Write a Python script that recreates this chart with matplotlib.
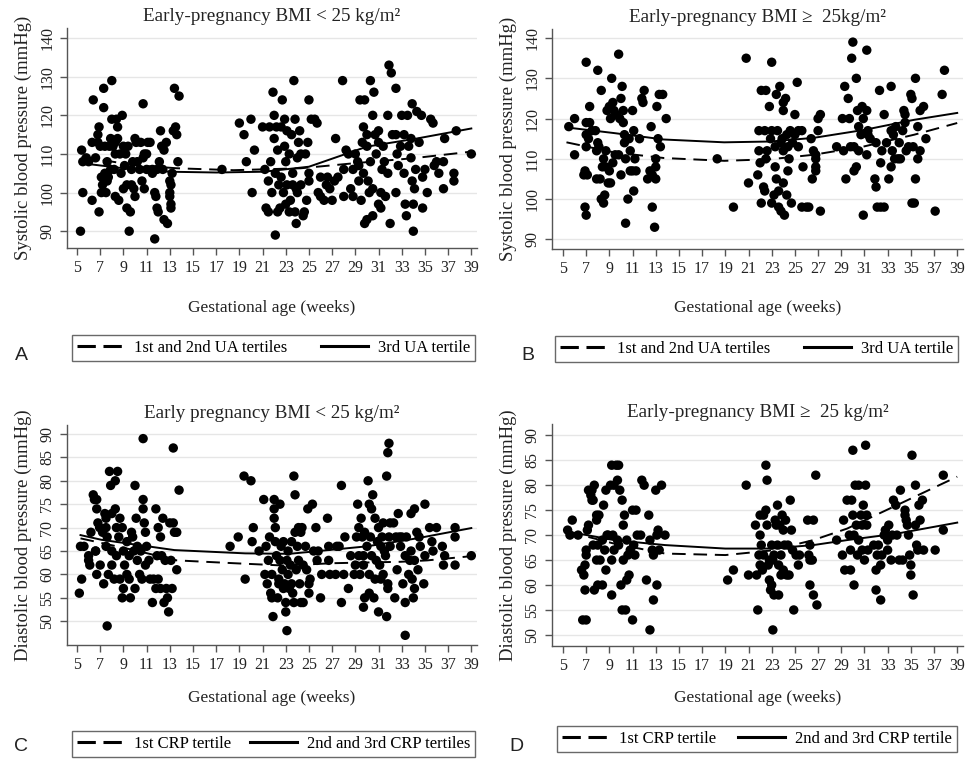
import matplotlib
matplotlib.use("Agg")
import matplotlib.pyplot as plt
from matplotlib.lines import Line2D

plt.rcParams['font.family'] = ['Liberation Serif', 'DejaVu Serif']

# ---- panel A: systolic, BMI < 25 ----
a_points = [
    (5.3, 90), (5.4, 111), (5.5, 100), (5.5, 108), (5.8, 109), (6.0, 108), (6.3, 113), (6.4, 124),
    (6.3, 98), (6.6, 109), (6.8, 113), (6.9, 117), (6.8, 115), (6.9, 95), (7.0, 112), (7.1, 100),
    (7.1, 104), (7.2, 102), (7.3, 127), (7.3, 122), (7.4, 112), (7.4, 105), (7.5, 100), (7.6, 108),
    (7.6, 103), (7.7, 104), (7.8, 112), (7.9, 106), (7.9, 114), (8.0, 129), (8.0, 119), (8.1, 112),
    (8.2, 106), (8.3, 113), (8.3, 110), (8.3, 99), (8.4, 119), (8.5, 117), (8.5, 114), (8.6, 98),
    (8.7, 110), (8.8, 105), (8.9, 120), (9.0, 112), (9.0, 101), (9.1, 107), (9.2, 110), (9.3, 96),
    (9.3, 102), (9.4, 112), (9.5, 90), (9.6, 95), (9.7, 102), (9.7, 106), (9.8, 108), (9.9, 101),
    (10.0, 114), (10.0, 99), (10.1, 113), (10.2, 108), (10.4, 106), (10.5, 113), (10.6, 103),
    (10.7, 109), (10.7, 123), (10.8, 101), (10.8, 110), (11.0, 110), (11.0, 106), (11.1, 113),
    (11.3, 113), (11.5, 105), (11.5, 106), (11.7, 100), (11.7, 88), (11.8, 99), (11.9, 96),
    (11.9, 106), (12.0, 95), (12.1, 108), (12.2, 116), (12.3, 112), (12.4, 106), (12.5, 111),
    (12.5, 93), (12.7, 113), (12.8, 92), (13.0, 103), (13.0, 100), (13.0, 99), (13.1, 97),
    (13.1, 96), (13.1, 102), (13.2, 105), (13.3, 116), (13.4, 127), (13.5, 117), (13.6, 115),
    (13.7, 108), (13.8, 125),
    (17.5, 106), (19.0, 118), (19.4, 115), (19.6, 108), (20.0, 119), (20.1, 100), (20.3, 111),
    (21.0, 117), (21.2, 106), (21.3, 96), (21.5, 95), (21.5, 103), (21.6, 117), (21.7, 108),
    (21.8, 100), (21.9, 126), (22.0, 120), (22.0, 114), (22.1, 89), (22.1, 105), (22.2, 117),
    (22.3, 95), (22.3, 111), (22.4, 102), (22.5, 96), (22.6, 104), (22.6, 117), (22.7, 124),
    (22.8, 100), (22.9, 119), (22.9, 112), (23.0, 97), (23.0, 108), (23.1, 116), (23.1, 102),
    (23.3, 95), (23.3, 110), (23.4, 98), (23.5, 115), (23.6, 105), (23.6, 102), (23.7, 129),
    (23.8, 119), (23.8, 95), (23.9, 92), (23.9, 101), (24.0, 100), (24.0, 109), (24.1, 113),
    (24.2, 116), (24.3, 110), (24.3, 102), (24.5, 94), (24.6, 95), (24.7, 110), (24.8, 98),
    (24.9, 113), (25.0, 124), (25.0, 105), (25.0, 103), (25.2, 119), (25.5, 119), (25.7, 118),
    (25.8, 100), (26.0, 104), (26.0, 99), (26.3, 98), (26.5, 102), (26.6, 104),
    (26.8, 101), (27.0, 98), (27.2, 103), (27.3, 114), (27.5, 104), (27.9, 129), (28.0, 106),
    (28.0, 99), (28.2, 111), (28.4, 110), (28.6, 101), (28.8, 106), (28.8, 99), (29.0, 110),
    (29.2, 108), (29.3, 103), (29.3, 107), (29.4, 124), (29.5, 98), (29.6, 113), (29.7, 117),
    (29.7, 105), (29.8, 124), (29.8, 92), (30.0, 115), (30.0, 93), (30.0, 112), (30.1, 103),
    (30.2, 100), (30.3, 129), (30.3, 108), (30.5, 94), (30.5, 101), (30.5, 120), (30.6, 126),
    (30.7, 115), (30.8, 110), (31.0, 113), (31.0, 97), (31.0, 116), (31.2, 96), (31.2, 100),
    (31.3, 106), (31.4, 112), (31.5, 108), (31.6, 99), (31.8, 120), (31.8, 105), (31.9, 133),
    (32.0, 92), (32.1, 131), (32.2, 115), (32.5, 127), (32.5, 115), (32.5, 100), (32.6, 110),
    (32.7, 107), (32.9, 112), (33.0, 120), (33.2, 115), (33.2, 105), (33.3, 97), (33.4, 94),
    (33.5, 120), (33.6, 112), (33.8, 114), (33.8, 109), (33.9, 103), (33.9, 123), (34.0, 90),
    (34.0, 97), (34.1, 101), (34.2, 106), (34.3, 121), (34.5, 113), (34.7, 120), (34.8, 96),
    (34.8, 104), (35.0, 106), (35.2, 100), (35.5, 119), (35.7, 118), (35.8, 107), (36.0, 108),
    (36.2, 105), (36.6, 101), (36.6, 108), (36.7, 114), (37.5, 105), (37.5, 103), (37.7, 116),
    (39.0, 110),
]
a_solid = [(5.4, 107.6), (9, 106.3), (13, 105.4), (17, 105.2), (21.1, 105.4), (25, 106.7),
           (30, 111.9), (34.3, 114), (39, 116.6)]
a_dashed = [(5.4, 109.3), (9.9, 107.1), (13.6, 106.3), (18.5, 105.8), (24.3, 106.3),
            (28.9, 107.6), (34, 108.9), (39, 110.6)]

# ---- panel B: systolic, BMI >= 25 ----
b_points = [
    (5.5, 118), (6.0, 120), (6.0, 111), (6.8, 106), (6.9, 98), (6.9, 107), (7.0, 134), (7.0, 96),
    (7.0, 116), (7.0, 113), (7.0, 119), (7.1, 106), (7.2, 115), (7.3, 123), (7.3, 119), (7.5, 117),
    (7.8, 117), (7.9, 105), (7.9, 112), (8.0, 132), (8.0, 114), (8.1, 113), (8.2, 105), (8.3, 100),
    (8.3, 127), (8.4, 108), (8.5, 110), (8.5, 99), (8.6, 101), (8.7, 112), (8.7, 108), (8.8, 122),
    (8.9, 104), (9.0, 123), (9.0, 107), (9.1, 104), (9.1, 120), (9.2, 130), (9.3, 124), (9.3, 109),
    (9.4, 122), (9.5, 111), (9.6, 121), (9.8, 136), (9.8, 111), (9.9, 120), (10.0, 106),
    (10.0, 125), (10.1, 128), (10.2, 122), (10.2, 119), (10.3, 116), (10.3, 114), (10.4, 110),
    (10.4, 94), (10.6, 100), (10.7, 115), (10.8, 112), (10.8, 107), (11.0, 107), (11.0, 122),
    (11.1, 102), (11.1, 117), (11.2, 110), (11.3, 107), (11.6, 115), (11.8, 125), (11.9, 124),
    (12.0, 127), (12.3, 105), (12.5, 107), (12.6, 118), (12.7, 98), (12.7, 106), (12.9, 93),
    (13.0, 110), (13.0, 105), (13.0, 108), (13.1, 123), (13.2, 115), (13.3, 126), (13.4, 113),
    (13.6, 126), (13.9, 120),
    (18.3, 110), (19.7, 98), (20.8, 135), (21.0, 104), (21.8, 106), (21.9, 112), (21.9, 117),
    (22.0, 109), (22.1, 99), (22.1, 127), (22.3, 103), (22.4, 117), (22.4, 102), (22.5, 110),
    (22.5, 127), (22.6, 112), (22.8, 123), (22.9, 115), (23.0, 134), (23.0, 117), (23.0, 99),
    (23.2, 101), (23.3, 113), (23.3, 108), (23.4, 126), (23.4, 105), (23.5, 117), (23.6, 102),
    (23.6, 98), (23.7, 128), (23.8, 114), (23.8, 97), (23.9, 115), (24.0, 122), (24.0, 124),
    (24.0, 112), (24.0, 104), (24.1, 96), (24.2, 125), (24.3, 101), (24.3, 116), (24.4, 113),
    (24.4, 107), (24.5, 110), (24.6, 117), (24.7, 99), (24.8, 114), (25.0, 121), (25.0, 116),
    (25.2, 129), (25.3, 117), (25.3, 113), (25.6, 117), (25.6, 98), (25.7, 108), (26.0, 98),
    (26.2, 98), (26.4, 115), (26.5, 105), (26.6, 112), (26.8, 110), (26.8, 107), (26.8, 108),
    (26.8, 111), (27.0, 117), (27.0, 120), (27.2, 121), (27.2, 97),
    (28.6, 113), (29.3, 128), (29.1, 120), (29.6, 125), (29.7, 120), (29.2, 112), (29.4, 105),
    (29.8, 113), (29.9, 135), (30.0, 139), (30.3, 130), (30.1, 113), (30.3, 108), (30.1, 107),
    (30.4, 122), (30.5, 118), (30.7, 116), (30.5, 112), (30.8, 123), (30.9, 120), (30.9, 96),
    (31.2, 122), (31.2, 137), (31.2, 111), (31.3, 116), (31.5, 115), (31.3, 117), (32.0, 114),
    (31.9, 105), (32.0, 103), (32.1, 98), (32.3, 127), (32.4, 109), (32.5, 112), (32.4, 98),
    (32.7, 98), (32.7, 121), (32.9, 114), (33.1, 105), (33.3, 117), (33.3, 108), (33.3, 128),
    (33.4, 112), (33.6, 110), (33.5, 116), (33.7, 118), (33.9, 110), (34.1, 110), (34.0, 114),
    (34.4, 122), (34.5, 121), (34.5, 119), (34.3, 117), (34.6, 112), (34.8, 113), (35.0, 126),
    (35.1, 125), (35.1, 99), (35.3, 99), (35.2, 113), (35.4, 105), (35.6, 118), (35.6, 110),
    (35.4, 130), (35.8, 112), (35.8, 122), (36.1, 123), (36.3, 115), (37.1, 97), (37.7, 126),
    (37.9, 132),
]
b_solid = [(5.3, 117.8), (9.4, 116.4), (13.7, 114.8), (18.9, 114.1), (22.9, 114.3),
           (26.6, 115.2), (31, 117.2), (35.3, 119.7), (39, 121.4)]
b_dashed = [(5.3, 114.1), (9.4, 111.6), (13.7, 110.2), (18.9, 109.5), (22.9, 109.9),
            (26.6, 111), (31, 113.1), (35.3, 116), (39, 118.9)]

# ---- panel C: diastolic, BMI < 25 ----
c_points = [
    (5.2, 56), (5.4, 59), (5.3, 66), (5.6, 66), (6.0, 64), (6.0, 63), (6.1, 62), (6.2, 69),
    (6.4, 77), (6.5, 76), (6.7, 76), (6.7, 74), (6.8, 71), (6.6, 65), (6.6, 65), (6.7, 60),
    (6.95, 70), (7.0, 62), (7.2, 69), (7.3, 58), (7.4, 73), (7.5, 72), (7.5, 70), (7.6, 68),
    (7.5, 66), (7.6, 49), (7.7, 60), (7.8, 82), (7.9, 79), (8.0, 73), (8.0, 65), (8.0, 62),
    (8.2, 59), (8.3, 80), (8.3, 74), (8.4, 70), (8.4, 64), (8.5, 82), (8.6, 68), (8.7, 72),
    (8.7, 59), (8.9, 70), (8.9, 55), (9.0, 57), (9.0, 65), (9.1, 62), (9.3, 60), (9.3, 67),
    (9.5, 59), (9.5, 64), (9.6, 55), (9.7, 69), (9.8, 68), (9.9, 65), (10.0, 79), (10.0, 57),
    (10.1, 72), (10.2, 66), (10.2, 63), (10.4, 60), (10.5, 65), (10.6, 59), (10.7, 89),
    (10.7, 76), (10.7, 74), (10.8, 71), (10.9, 69), (10.9, 62), (11.0, 66), (11.2, 63),
    (11.3, 59), (11.5, 54), (11.6, 59), (11.8, 74), (11.8, 57), (11.9, 64), (12.0, 70),
    (12.0, 59), (12.2, 68), (12.2, 57), (12.3, 64), (12.4, 72), (12.5, 54), (12.6, 63),
    (12.7, 57), (12.8, 55), (12.9, 52), (13.0, 71), (13.1, 63), (13.2, 57), (13.3, 71),
    (13.3, 87), (13.4, 69), (13.6, 69), (13.6, 61), (13.8, 78),
    (18.2, 66), (18.9, 68), (19.4, 81), (19.5, 59), (20.0, 80), (20.1, 67), (20.2, 70),
    (20.7, 65), (21.1, 76), (21.2, 60), (21.3, 66), (21.4, 58), (21.5, 63), (21.6, 68),
    (21.7, 56), (21.8, 60), (21.8, 55), (21.9, 51), (22.0, 76), (22.0, 74), (22.0, 72),
    (22.1, 70), (22.1, 67), (22.2, 64), (22.3, 55), (22.4, 59), (22.4, 58), (22.5, 75),
    (22.5, 63), (22.6, 66), (22.7, 61), (22.8, 57), (22.8, 67), (22.9, 58), (23.0, 54),
    (23.0, 52), (23.1, 48), (23.1, 63), (23.2, 60), (23.2, 65), (23.3, 57), (23.4, 62),
    (23.5, 67), (23.5, 58), (23.6, 56), (23.7, 54), (23.7, 81), (23.8, 77), (23.8, 69),
    (23.9, 61), (24.0, 66), (24.1, 70), (24.1, 63), (24.2, 58), (24.3, 54), (24.3, 69),
    (24.4, 70), (24.5, 54), (24.5, 62), (24.7, 66), (24.8, 61), (24.9, 74), (25.0, 58),
    (25.0, 56), (25.1, 59), (25.3, 75), (25.4, 65), (25.6, 70), (25.7, 63), (25.8, 65),
    (26.0, 55), (26.1, 60), (26.6, 72), (26.7, 66), (26.7, 63), (26.8, 60), (27.4, 66),
    (27.3, 60), (27.6, 66), (27.8, 79), (27.8, 54), (28.0, 60),
    (28.1, 68), (28.4, 57), (28.6, 64), (28.9, 60), (29.0, 62), (29.1, 68), (29.2, 75),
    (29.3, 70), (29.3, 64), (29.4, 60), (29.5, 72), (29.6, 68), (29.7, 53), (29.7, 64),
    (29.7, 62), (29.8, 55), (29.8, 69), (30.0, 66), (30.1, 80), (30.2, 75), (30.2, 60),
    (30.2, 56), (30.3, 68), (30.4, 74), (30.4, 64), (30.5, 77), (30.6, 55), (30.7, 59),
    (30.7, 72), (30.8, 63), (30.9, 67), (31.0, 52), (31.0, 70), (31.1, 62), (31.2, 59),
    (31.2, 66), (31.3, 68), (31.4, 60), (31.4, 71), (31.5, 65), (31.6, 64), (31.7, 81),
    (31.7, 51), (31.8, 86), (31.9, 88), (31.9, 68), (32.0, 66), (32.0, 71), (31.8, 58),
    (31.8, 57), (32.3, 71), (32.4, 55), (32.5, 68), (32.6, 61), (32.7, 73), (32.8, 68),
    (32.9, 66), (33.0, 68), (33.1, 58), (33.3, 54), (33.3, 47), (33.3, 64), (33.4, 68),
    (33.6, 60), (33.7, 63), (33.8, 65), (33.8, 73), (33.9, 59), (34.0, 55), (34.1, 74),
    (34.1, 57), (34.1, 63), (34.3, 69), (34.4, 61), (34.5, 68), (34.6, 66), (34.9, 58),
    (35.0, 64), (35.0, 75), (35.4, 70), (35.6, 67), (35.7, 65), (36.0, 70), (36.5, 66),
    (36.6, 62), (36.7, 64), (37.6, 70), (37.6, 68), (37.6, 62), (39.0, 64),
]
c_solid = [(5.3, 68.4), (7.1, 67.4), (13.4, 65.2), (19.5, 64.5), (23.3, 64.4), (25.0, 64.8),
           (30.0, 66.0), (34.3, 67.7), (39, 69.9)]
c_dashed = [(5.3, 67.7), (9.9, 65.2), (13.6, 63.0), (18.5, 62.4), (22.8, 61.9), (27.1, 62.4),
            (32.9, 62.7), (35.2, 63.0), (39, 63.9)]

# ---- panel D: diastolic, BMI >= 25 ----
d_points = [
    (5.4, 71), (5.8, 73), (5.6, 70), (6.3, 70), (6.6, 63), (6.8, 62), (6.7, 53), (7.0, 53),
    (6.9, 59), (6.9, 64), (7.0, 67), (7.0, 66), (7.1, 71), (7.2, 72), (7.2, 79), (7.4, 78),
    (7.5, 77), (7.5, 79), (7.6, 68), (7.6, 77), (7.7, 80), (7.7, 59), (7.9, 73), (7.9, 65),
    (7.9, 74), (8.0, 60), (8.0, 68), (8.1, 74), (8.2, 65), (8.4, 60), (8.4, 69), (8.5, 76),
    (8.6, 67), (8.7, 79), (8.7, 63), (8.8, 70), (8.9, 70), (9.1, 80), (9.2, 84), (9.2, 58),
    (9.2, 65), (9.3, 70), (9.4, 67), (9.4, 80), (9.6, 84), (9.7, 81), (9.7, 69), (9.8, 84),
    (9.8, 68), (9.9, 79), (10.0, 60), (10.1, 55), (10.1, 77), (10.2, 72), (10.2, 65),
    (10.3, 74), (10.4, 55), (10.5, 61), (10.5, 69), (10.6, 66), (10.7, 62), (10.8, 67),
    (11.0, 53), (11.0, 75), (11.1, 68), (11.2, 66), (11.3, 75), (11.4, 70), (11.7, 70),
    (11.8, 81), (12.0, 80), (12.2, 61), (12.4, 74), (12.5, 69), (12.5, 51), (12.7, 67),
    (12.8, 57), (12.8, 66), (13.0, 79), (13.1, 70), (13.1, 60), (13.2, 71), (13.3, 67),
    (13.5, 80), (13.8, 70),
    (19.2, 61), (19.7, 63), (20.8, 80), (21.0, 62), (21.6, 72), (21.7, 62), (21.8, 55),
    (21.9, 66), (22.0, 74), (22.0, 64), (22.0, 70), (22.1, 68), (22.2, 63), (22.3, 74),
    (22.3, 66), (22.5, 75), (22.5, 84), (22.6, 81), (22.6, 72), (22.7, 64), (22.8, 65),
    (22.8, 61), (22.9, 59), (23.0, 68), (23.0, 60), (23.1, 51), (23.1, 65), (23.2, 58),
    (23.2, 66), (23.3, 73), (23.4, 72), (23.5, 68), (23.5, 76), (23.6, 58), (23.6, 64),
    (23.7, 72), (23.8, 62), (23.8, 66), (23.9, 74), (24.0, 63), (24.0, 71), (24.1, 68),
    (24.2, 73), (24.3, 62), (24.4, 68), (24.5, 62), (24.6, 77), (24.7, 71), (24.8, 67),
    (24.9, 55), (25.1, 66), (25.3, 64), (25.4, 66), (26.1, 73), (26.2, 66), (26.3, 65),
    (26.3, 68), (26.3, 60), (26.5, 65), (26.6, 73), (26.6, 58), (26.8, 82), (26.9, 56),
    (28.6, 69), (29.1, 66), (29.2, 73), (29.3, 63), (29.5, 77), (29.7, 70), (29.8, 67),
    (29.8, 63), (29.9, 77), (30.0, 87), (30.0, 74), (30.1, 70), (30.1, 60), (30.2, 80),
    (30.3, 72), (30.4, 66), (30.5, 69), (30.5, 80), (30.7, 74), (30.8, 67), (30.8, 72),
    (30.9, 76), (31.0, 65), (31.1, 88), (31.1, 80), (31.2, 74), (31.2, 72), (31.3, 67),
    (31.8, 68), (32.0, 59), (32.0, 63), (32.1, 66), (32.2, 68), (32.4, 57), (32.4, 64),
    (32.5, 66), (32.7, 70), (32.8, 71), (33.0, 69), (33.0, 67), (33.1, 72), (33.3, 65),
    (33.4, 70), (33.5, 77), (33.7, 76), (33.8, 70), (34.0, 65), (34.1, 79), (34.3, 65),
    (34.5, 74), (34.5, 75), (34.6, 73), (34.7, 72), (34.8, 70), (34.9, 66), (35.0, 62),
    (35.0, 64), (35.1, 86), (35.2, 58), (35.4, 80), (35.4, 72), (35.5, 68), (35.6, 67),
    (35.7, 76), (35.8, 73), (36.0, 77), (36.1, 67), (37.1, 67), (37.8, 82), (37.8, 71),
]
d_solid = [(5.4, 70.7), (9.4, 69.0), (13.8, 68.0), (19, 67.3), (22.9, 67.3), (26.6, 68.0),
           (29.5, 69.0), (33.8, 70.3), (39, 72.5)]
d_dashed = [(5.4, 70.7), (9.4, 68.3), (13.8, 66.3), (19, 66.0), (22.9, 66.9), (26.6, 69.0),
            (29.5, 71.3), (33.8, 76.0), (39, 81.7)]

titles = ["Early-pregnancy BMI < 25 kg/m\u00b2", "Early-pregnancy BMI \u2265  25kg/m\u00b2",
          "Early pregnancy BMI < 25 kg/m\u00b2", "Early-pregnancy BMI \u2265  25 kg/m\u00b2"]
ylabels = ["Systolic blood pressure (mmHg)", "Systolic blood pressure (mmHg)",
           "Diastolic blood pressure (mmHg)", "Diastolic blood pressure (mmHg)"]
legend_labels = [("1st and 2nd UA tertiles", "3rd UA tertile"),
                 ("1st and 2nd UA tertiles", "3rd UA tertile"),
                 ("1st CRP tertile", "2nd and 3rd CRP tertiles"),
                 ("1st CRP tertile", "2nd and 3rd CRP tertile")]
panel_letters = ["A", "B", "C", "D"]
x_ticks = list(range(5, 40, 2))
sbp_ticks = [90, 100, 110, 120, 130, 140]
dbp_ticks = [50, 55, 60, 65, 70, 75, 80, 85, 90]

fig = plt.figure(figsize=(9.66, 7.59), dpi=100)

# axes rectangles (left, bottom, width, height) in figure fraction
rects = [(0.0694, 0.673, 0.4245, 0.290), (0.5714, 0.672, 0.4255, 0.290),
         (0.0694, 0.150, 0.4245, 0.290), (0.5714, 0.149, 0.4255, 0.292)]
ylims = [(85.6, 142.6), (87.6, 142.3), (44.9, 91.9), (47.8, 92.2)]
xlims = [(4.14, 39.5), (4.05, 39.5), (4.14, 39.5), (4.05, 39.5)]
panels = [(a_points, a_solid, a_dashed, sbp_ticks), (b_points, b_solid, b_dashed, sbp_ticks),
          (c_points, c_solid, c_dashed, dbp_ticks), (d_points, d_solid, d_dashed, dbp_ticks)]

legend_boxes = [(0.0745, 0.524, 0.4172, 0.041), (0.5745, 0.523, 0.4172, 0.041),
                (0.0745, 0.003, 0.4172, 0.040), (0.5766, 0.009, 0.4141, 0.041)]
letter_pos = [(0.015, 0.526), (0.540, 0.526), (0.015, 0.010), (0.527, 0.010)]
xlabel_y = [0.594, 0.594, 0.080, 0.080]

dash = (0, (7, 4))

for i, ax_rect in enumerate(rects):
    pts, solid, dashed, yt = panels[i]
    ax = fig.add_axes(ax_rect)
    xs = [p[0] for p in pts]
    ys = [p[1] for p in pts]
    ax.scatter(xs, ys, s=46, color="black", edgecolors="none", zorder=3)
    ax.plot([p[0] for p in solid], [p[1] for p in solid], color="black", lw=1.4, zorder=4)
    ax.plot([p[0] for p in dashed], [p[1] for p in dashed], color="black", lw=1.4,
            linestyle=dash, zorder=4)
    ax.set_xlim(*xlims[i])
    ax.set_ylim(*ylims[i])
    ax.set_xticks(x_ticks)
    ax.set_yticks(yt)
    ax.grid(axis="y", color="#e6e6e6", lw=1.0)
    ax.set_axisbelow(True)
    for s in ["top", "right"]:
        ax.spines[s].set_visible(False)
    for s in ["left", "bottom"]:
        ax.spines[s].set_color("#555555")
        ax.spines[s].set_linewidth(1.0)
    ax.tick_params(axis="both", colors="#555555", labelcolor="#222222", labelsize=11.5,
                   length=5, width=1.0)
    for lab in ax.get_yticklabels():
        lab.set_rotation(90)
        lab.set_va("center")
    ax.set_ylabel(ylabels[i], fontsize=13.5, color="#222222", labelpad=5)
    ax.set_title(titles[i], fontsize=13.8, color="#222222", pad=5)
    cx = ax_rect[0] + ax_rect[2] / 2
    fig.text(cx, xlabel_y[i], "Gestational age (weeks)", ha="center", va="center",
             fontsize=12.5, color="#222222")

    handles = [Line2D([], [], color="black", lw=2.2, linestyle=(0, (6, 2.5))),
               Line2D([], [], color="black", lw=2.2)]
    leg = fig.legend(handles, legend_labels[i], loc="lower left",
                     bbox_to_anchor=legend_boxes[i], mode="expand", ncol=2,
                     fontsize=12, frameon=True, fancybox=False, handlelength=2.8,
                     handletextpad=0.6, columnspacing=0.8, borderaxespad=0,
                     borderpad=0.3)
    leg.get_frame().set_edgecolor("#444444")
    leg.get_frame().set_linewidth(1.0)
    fig.text(letter_pos[i][0], letter_pos[i][1], panel_letters[i], fontsize=14,
             family=["Liberation Sans", "DejaVu Sans"], color="#222222")

fig.savefig("out.png", dpi=100)
